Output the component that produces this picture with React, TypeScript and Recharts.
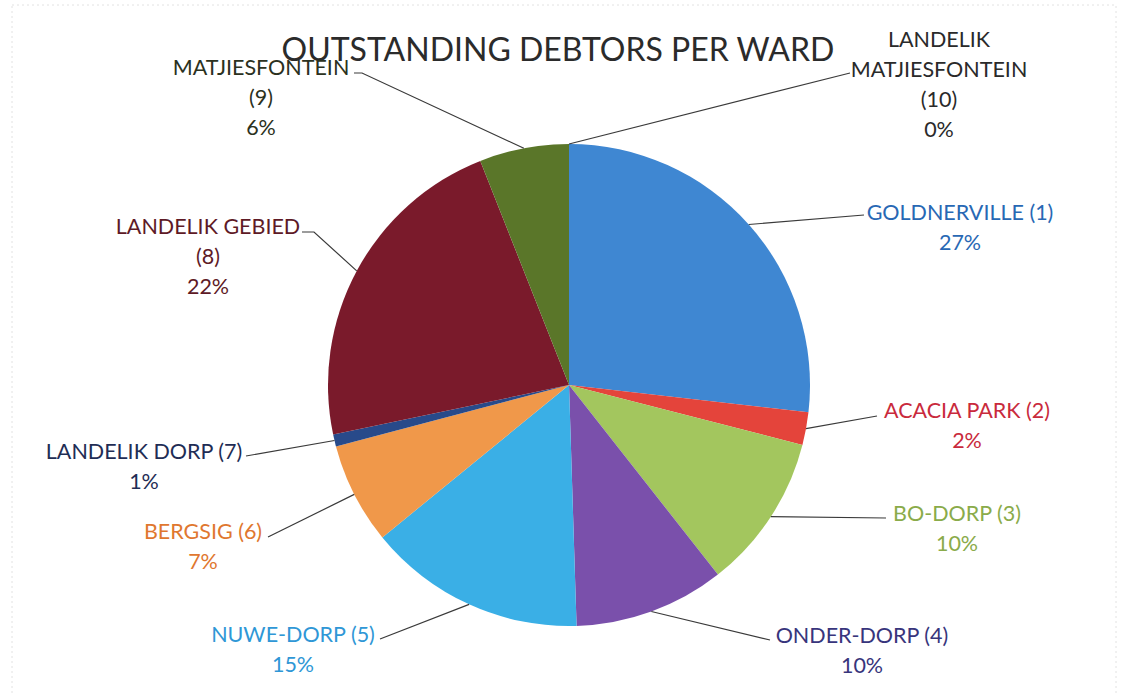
import React from 'react';
import { PieChart, Pie, Cell } from 'recharts';

// ward names and their share of outstanding debtors (%)
const wards = [
  'GOLDNERVILLE (1)',
  'ACACIA PARK (2)',
  'BO-DORP (3)',
  'ONDER-DORP (4)',
  'NUWE-DORP (5)',
  'BERGSIG (6)',
  'LANDELIK DORP (7)',
  'LANDELIK GEBIED (8)',
  'MATJIESFONTEIN (9)',
  'LANDELIK MATJIESFONTEIN (10)',
];
const shares = [26.8, 2.2, 10.4, 10.1, 14.6, 6.8, 0.8, 22.3, 6.0, 0.0];

const sliceColors = [
  '#3f87d2',
  '#e4443b',
  '#a3c65e',
  '#7a50ab',
  '#3aafe6',
  '#f0984a',
  '#284a8a',
  '#7a1a2b',
  '#5a7629',
];
const textColors = [
  '#2868b4',
  '#c92a3c',
  '#8aab4a',
  '#38357c',
  '#2f97d6',
  '#e0772f',
  '#1f2d55',
  '#5e1a26',
  '#2b3120',
  '#2a2a2a',
];

// how each label is broken into lines, and where its block sits
const labelLines = [
  ['GOLDNERVILLE (1)'],
  ['ACACIA PARK (2)'],
  ['BO-DORP (3)'],
  ['ONDER-DORP (4)'],
  ['NUWE-DORP (5)'],
  ['BERGSIG (6)'],
  ['LANDELIK DORP (7)'],
  ['LANDELIK GEBIED', '(8)'],
  ['MATJIESFONTEIN', '(9)'],
  ['LANDELIK', 'MATJIESFONTEIN', '(10)'],
];
const labelLayout = [
  { x: 960, y: 212, lx: 864, ly: 215 },
  { x: 967, y: 410, lx: 877, ly: 416 },
  { x: 957, y: 513, lx: 886, ly: 518 },
  { x: 862, y: 635, lx: 770, ly: 640 },
  { x: 293, y: 634, lx: 380, ly: 639 },
  { x: 203, y: 531, lx: 268, ly: 537 },
  { x: 144, y: 451, lx: 246, ly: 456 },
  { x: 208, y: 226, lx: 302, ly: 232, bx: 314 },
  { x: 261, y: 67, lx: 354, ly: 73, bx: 362 },
  { x: 939, y: 39, lx: 850, ly: 73 },
];

const data = wards.map((name, i) => ({ name, value: shares[i] }));
const total = shares.reduce((s, v) => s + v, 0);
const RAD = Math.PI / 180;
const FONT = 'Lato, "Open Sans", sans-serif';

const renderLabel = (props: any) => {
  const { cx, cy, midAngle, outerRadius, index } = props;
  const sx = cx + outerRadius * Math.cos(-midAngle * RAD);
  const sy = cy + outerRadius * Math.sin(-midAngle * RAD);
  const pos = labelLayout[index];
  const lines = [...labelLines[index], `${Math.round((shares[index] / total) * 100)}%`];
  const pts = pos.bx
    ? `${sx},${sy} ${pos.bx},${pos.ly} ${pos.lx},${pos.ly}`
    : `${sx},${sy} ${pos.lx},${pos.ly}`;
  return (
    <g key={`lbl-${index}`}>
      <polyline points={pts} fill="none" stroke="#3a3a3a" strokeWidth={1.2} />
      <text
        x={pos.x}
        y={pos.y}
        fill={textColors[index]}
        textAnchor="middle"
        dominantBaseline="central"
        fontFamily={FONT}
        fontSize={21.5}
      >
        {lines.map((t, j) => (
          <tspan key={j} x={pos.x} dy={j === 0 ? 0 : 30}>
            {t}
          </tspan>
        ))}
      </text>
    </g>
  );
};

export default function App() {
  return (
    <div style={{ position: 'absolute', left: 0, top: 0, width: 1122, height: 693, background: '#fff' }}>
      <PieChart width={1122} height={693} margin={{ top: 0, right: 0, bottom: 0, left: 0 }}>
        <rect x={12} y={5} width={1104} height={690} fill="none" stroke="#e2e2e2" strokeDasharray="2 3" />
        <text
          x={558}
          y={48}
          textAnchor="middle"
          dominantBaseline="central"
          fontFamily={FONT}
          fontSize={32}
          fill="#2b2b2b"
        >
          OUTSTANDING DEBTORS PER WARD
        </text>
        <Pie
          data={data}
          dataKey="value"
          nameKey="name"
          cx={569}
          cy={385}
          outerRadius={241}
          startAngle={90}
          endAngle={-270}
          stroke="none"
          label={renderLabel}
          labelLine={false}
          isAnimationActive={false}
        >
          {data.map((d, i) => (
            <Cell key={d.name} fill={sliceColors[i % sliceColors.length]} />
          ))}
        </Pie>
      </PieChart>
    </div>
  );
}
